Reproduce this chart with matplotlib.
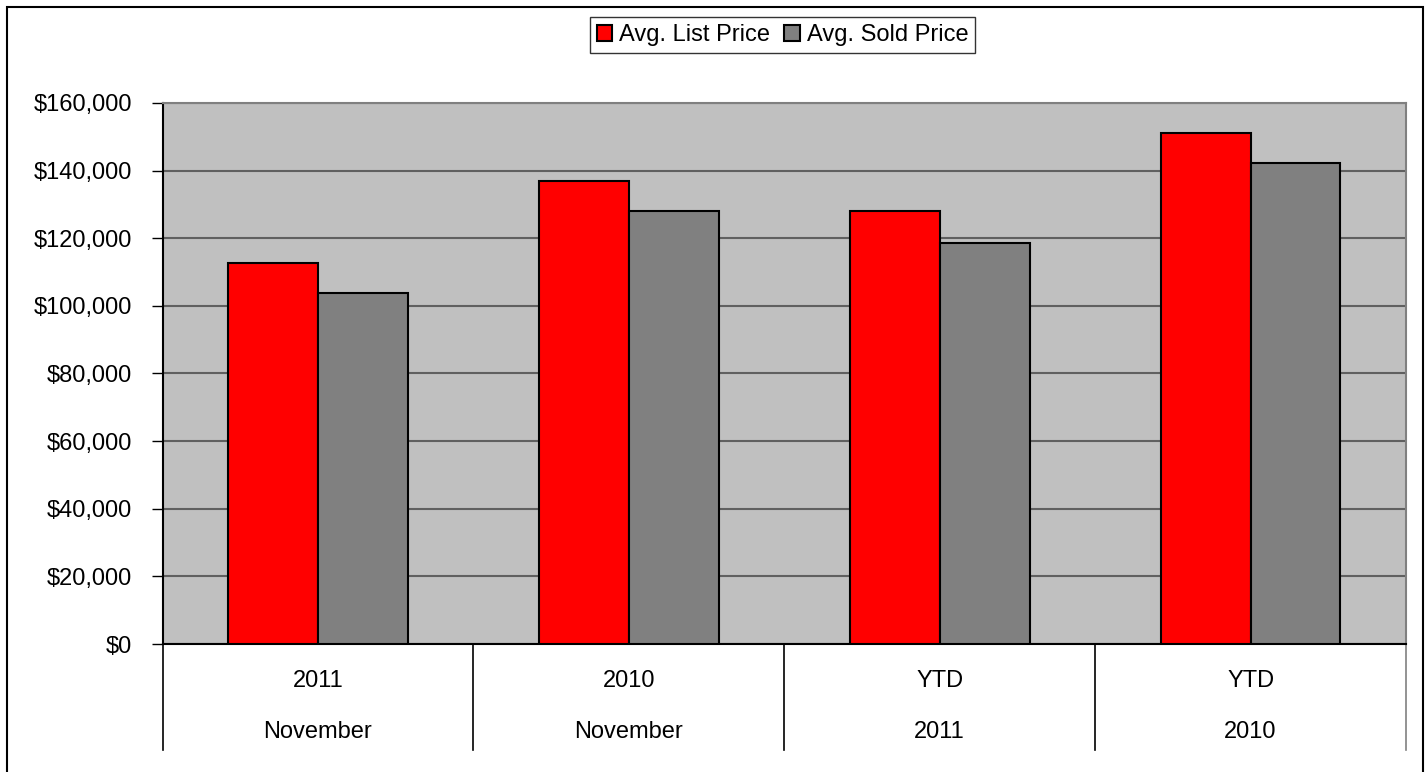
import numpy as np
import matplotlib
matplotlib.use("Agg")
import matplotlib.pyplot as plt
from matplotlib.patches import Rectangle
from matplotlib.ticker import FuncFormatter

plt.rcParams["font.family"] = ["Liberation Sans", "DejaVu Sans"]
plt.rcParams["font.size"] = 17

top_labels = ["2011", "2010", "YTD", "YTD"]
bottom_labels = ["November", "November", "2011", "2010"]
list_price = [112800, 137000, 128200, 151100]
sold_price = [103900, 128100, 118700, 142300]

fig = plt.figure(figsize=(14.28, 7.72), dpi=100)
ax = fig.add_axes([0.1138, 0.1658, 0.9846 - 0.1138, 0.8666 - 0.1658])
ax.set_facecolor("#C0C0C0")

x = np.arange(len(top_labels))
w = 0.289
ax.bar(x - w / 2, list_price, w, color="#FF0000", edgecolor="black",
       linewidth=1.5, label="Avg. List Price", zorder=3)
ax.bar(x + w / 2, sold_price, w, color="#808080", edgecolor="black",
       linewidth=1.5, label="Avg. Sold Price", zorder=3)

ax.set_xlim(-0.5, len(top_labels) - 0.5)
ax.set_ylim(0, 160000)
ax.set_yticks(np.arange(0, 160001, 20000))
ax.yaxis.set_major_formatter(FuncFormatter(lambda v, p: "${:,.0f}".format(v)))
ax.tick_params(axis="y", length=8, width=1, pad=14, color="black")
ax.set_xticks([])
ax.grid(axis="y", color="#606060", linewidth=1.5, zorder=1)

ax.spines["left"].set_color("black")
ax.spines["left"].set_linewidth(1.5)
ax.spines["bottom"].set_color("black")
ax.spines["bottom"].set_linewidth(1.5)
ax.spines["top"].set_color("#808080")
ax.spines["top"].set_linewidth(1.5)
ax.spines["right"].set_color("#808080")
ax.spines["right"].set_linewidth(1.5)

trans = ax.get_xaxis_transform()
for b in np.arange(-0.5, len(top_labels), 1.0):
    c = "#808080" if b == len(top_labels) - 0.5 else "black"
    ax.plot([b, b], [0, -0.196], transform=trans, color=c, linewidth=1.2,
            clip_on=False)
for i in x:
    ax.text(i, -0.0675, top_labels[i], transform=trans, ha="center",
            va="center")
    ax.text(i, -0.163, bottom_labels[i], transform=trans, ha="center",
            va="center")

leg = fig.legend(loc="center", bbox_to_anchor=(0.548, 0.9547), ncol=2,
                 frameon=True, fancybox=False, handlelength=0.65,
                 handleheight=0.65, handletextpad=0.3, columnspacing=0.6,
                 borderpad=0.3, fontsize=17)
leg.get_frame().set_edgecolor("black")
leg.get_frame().set_linewidth(1.0)

fig.patches.append(Rectangle((7 / 1428, -0.01), (1423 - 7) / 1428, 1 - 7 / 772 + 0.01,
                             transform=fig.transFigure, fill=False,
                             edgecolor="black", linewidth=1.5))

fig.savefig("out.png", dpi=100, facecolor="white")
